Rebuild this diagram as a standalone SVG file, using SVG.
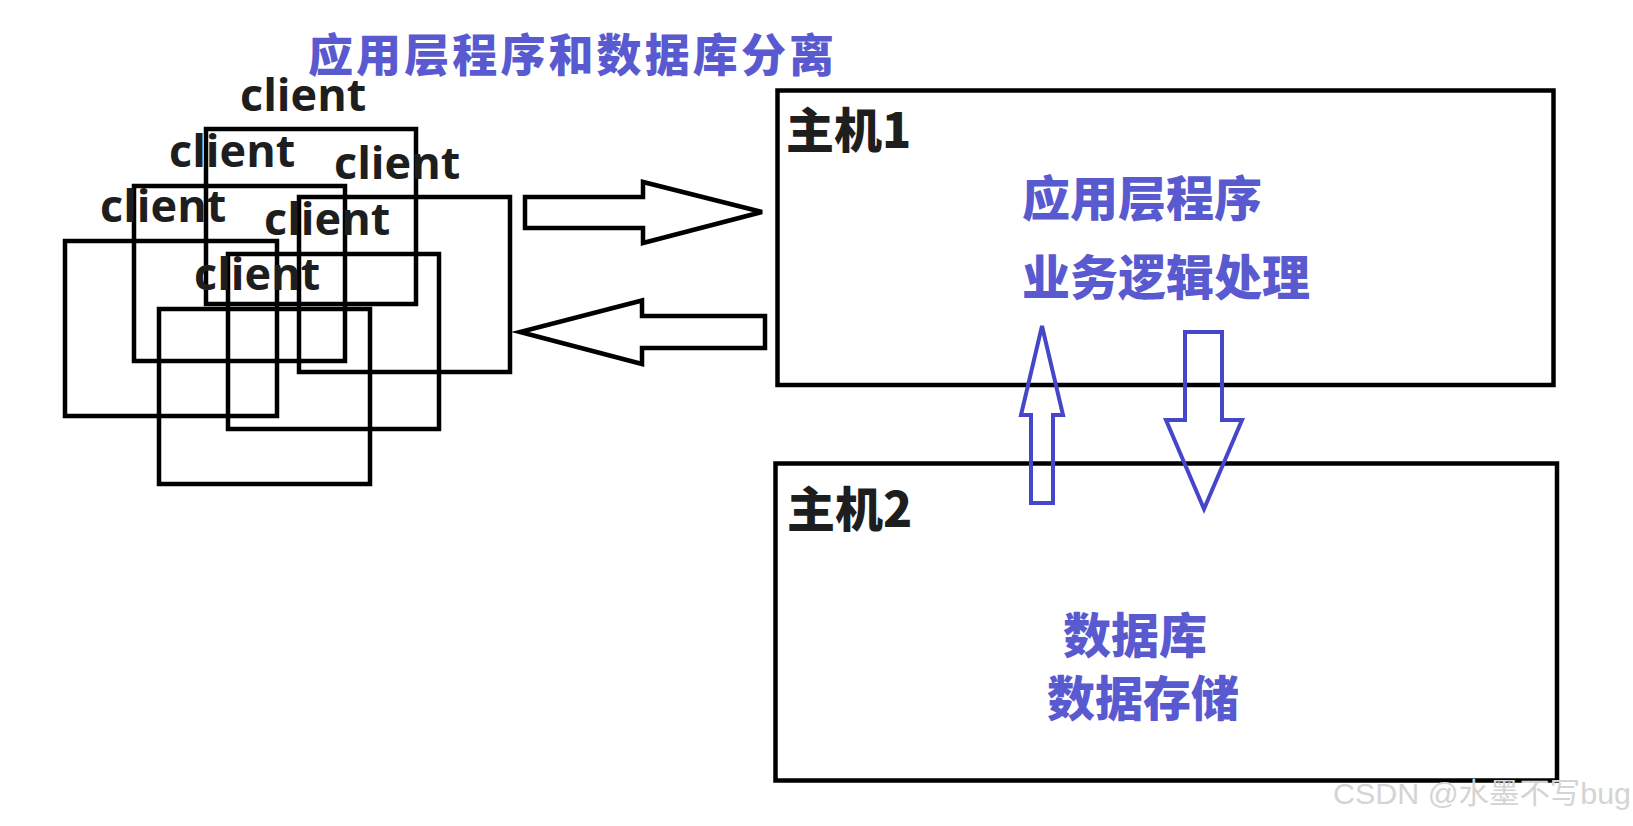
<svg xmlns="http://www.w3.org/2000/svg" width="1633" height="826" viewBox="0 0 1633 826">
<style>
.box{fill:none;stroke:#000;stroke-width:4.5}
.cl{font-family:"Open Sans","Liberation Sans",sans-serif;font-weight:700;font-size:45px;fill:#1e1e1e}
.lbl{font-family:"Noto Sans CJK SC",sans-serif;font-weight:900;font-size:48px;fill:#1e1e1e}
.blue{font-family:"Noto Sans CJK SC",sans-serif;font-weight:900;font-size:48px;fill:#5a5ad0}
.barrow{fill:#fff;stroke:#000;stroke-width:4.5;stroke-linejoin:miter}
.uarrow{fill:none;stroke:#4646c8;stroke-width:4}
</style>
<rect width="1633" height="826" fill="#fff"/>
<text id="title" x="308" y="72" font-family="Noto Sans CJK SC, sans-serif" font-weight="900" font-size="45" fill="#5a5ad0" textLength="526">应用层程序和数据库分离</text>
<g id="clients">
  <g id="client1"><rect class="box" x="206" y="129" width="210" height="175"/><text class="cl" x="240" y="111">client</text></g>
  <g id="client2"><rect class="box" x="134" y="186" width="211" height="175"/><text class="cl" x="169" y="167">client</text></g>
  <g id="client3"><rect class="box" x="299" y="197" width="211" height="175"/><text class="cl" x="334" y="179">client</text></g>
  <g id="client4"><rect class="box" x="65" y="241" width="212" height="175"/><text class="cl" x="100" y="222">client</text></g>
  <g id="client5"><rect class="box" x="228" y="254" width="211" height="175"/><text class="cl" x="264" y="235">client</text></g>
  <g id="client6"><rect class="box" x="159" y="309" width="211" height="175"/><text class="cl" x="194" y="290">client</text></g>
</g>
<g id="host1">
  <rect class="box" x="777.5" y="90.5" width="776" height="294.5"/>
  <text class="lbl" x="786" y="148">主机1</text>
  <text class="blue" x="1022" y="216">应用层程序</text>
  <text class="blue" x="1022" y="295">业务逻辑处理</text>
</g>
<g id="host2">
  <rect class="box" x="775.5" y="463.5" width="781.5" height="317"/>
  <text class="lbl" x="787" y="527">主机2</text>
  <text class="blue" x="1063" y="653">数据库</text>
  <text class="blue" x="1047" y="716">数据存储</text>
</g>
<g id="connectors">
  <polygon class="barrow" points="525,197 643,197 643,182 762,212 643,243 643,228 525,228"/>
  <polygon class="barrow" points="765,316 642,316 642,300.5 520,332 642,364 642,348 765,348"/>
  <polygon class="uarrow" points="1042,326 1063,415 1053,415 1053,503 1031,503 1031,415 1021,415"/>
  <polygon class="uarrow" points="1185,332 1222,332 1222,420 1242,420 1204,509 1166,420 1185,420"/>
</g>
<text id="watermark" x="1333" y="804" font-family="Liberation Sans, Noto Sans CJK SC, sans-serif" font-size="29" fill="#d4d4d4" textLength="298" lengthAdjust="spacingAndGlyphs">CSDN @水墨不写bug</text>
</svg>
